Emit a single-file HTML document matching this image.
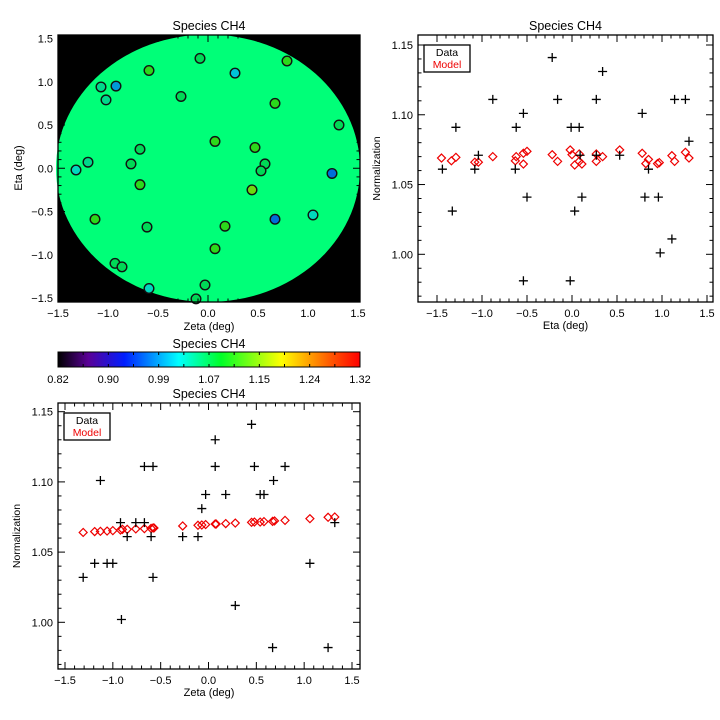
<!DOCTYPE html>
<html><head><meta charset="utf-8"><style>
body{margin:0;background:#fff}
svg{display:block;font-family:"Liberation Sans",sans-serif}
text{fill:#000}
</style></head><body>
<svg id="s" width="720" height="720" viewBox="0 0 720 720"></svg>
<script>
// ---- map panel data ----
const mapZeta=[-0.08,-0.59,0.27,0.79,-1.07,-0.92,-1.02,-0.27,0.67,1.31,0.07,-0.68,0.47,-1.20,-1.32,-0.77,0.57,0.53,1.24,-0.68,0.44,-1.13,-0.61,0.17,0.67,1.05,0.07,-0.93,-0.86,-0.59,-0.03,-0.12];
const mapEta=[1.27,1.13,1.10,1.24,0.94,0.95,0.79,0.83,0.75,0.50,0.31,0.22,0.24,0.07,-0.02,0.05,0.05,-0.03,-0.06,-0.19,-0.25,-0.59,-0.68,-0.67,-0.59,-0.54,-0.93,-1.10,-1.14,-1.39,-1.35,-1.51];
const mapVal=[1.07,1.11,1.01,1.11,1.05,0.99,1.05,1.07,1.11,1.07,1.11,1.07,1.11,1.05,1.03,1.07,1.07,1.07,0.97,1.11,1.14,1.11,1.07,1.11,0.97,1.03,1.11,1.07,1.07,1.03,1.07,1.07];
const diskVal=1.064;
const cbTicks=["0.82","0.90","0.99","1.07","1.15","1.24","1.32"];
// ---- eta panel data ----
const etaData=[-1.44,-1.33,-1.29,-1.08,-1.04,-0.88,-0.62,-0.63,-0.54,-0.50,-0.54,-0.22,-0.16,-0.01,0.08,0.09,0.11,0.03,-0.02,0.27,0.27,0.34,0.53,0.78,0.81,0.85,0.96,0.98,1.11,1.14,1.26,1.30];
const etaDataVal=[1.061,1.031,1.091,1.061,1.071,1.111,1.091,1.061,1.101,1.041,0.981,1.141,1.111,1.091,1.091,1.071,1.041,1.031,0.981,1.111,1.071,1.131,1.071,1.101,1.041,1.061,1.041,1.001,1.011,1.111,1.111,1.081];
const etaModelX=[-1.45,-1.34,-1.29,-1.08,-1.04,-0.88,-0.63,-0.62,-0.54,-0.54,-0.50,-0.22,-0.16,-0.02,0.00,0.03,0.08,0.08,0.11,0.27,0.27,0.34,0.53,0.78,0.82,0.85,0.95,0.97,1.11,1.14,1.26,1.30];
const etaModelVal=[1.069,1.067,1.0695,1.066,1.066,1.070,1.067,1.070,1.0724,1.0647,1.0738,1.0714,1.0666,1.0748,1.0714,1.064,1.0719,1.0666,1.0647,1.0666,1.0719,1.070,1.0748,1.0724,1.065,1.068,1.065,1.0657,1.0707,1.0666,1.0731,1.069];
// ---- zeta panel data ----
const zetaData=[-1.31,-1.19,-1.13,-1.06,-1.00,-0.92,-0.91,-0.85,-0.76,-0.67,-0.67,-0.58,-0.60,-0.58,-0.27,-0.11,-0.07,-0.03,0.07,0.07,0.18,0.28,0.45,0.48,0.54,0.58,0.68,0.67,0.80,1.06,1.25,1.32];
const zetaDataVal=[1.032,1.042,1.101,1.042,1.042,1.071,1.002,1.061,1.071,1.071,1.111,1.111,1.061,1.032,1.061,1.061,1.081,1.091,1.130,1.111,1.091,1.012,1.141,1.111,1.091,1.091,1.101,0.982,1.111,1.042,0.982,1.071];
const zetaModelX=[-1.31,-1.19,-1.13,-1.06,-1.00,-0.92,-0.90,-0.85,-0.76,-0.67,-0.60,-0.58,-0.57,-0.27,-0.11,-0.07,-0.03,0.07,0.08,0.18,0.28,0.45,0.48,0.54,0.58,0.67,0.69,0.80,1.06,1.25,1.32];
const zetaModelVal=[1.064,1.0646,1.0648,1.065,1.0653,1.0657,1.0662,1.0662,1.0665,1.0667,1.0669,1.0672,1.0672,1.0686,1.0691,1.0693,1.0696,1.070,1.070,1.0703,1.0707,1.0712,1.0714,1.0714,1.0717,1.0719,1.0722,1.0726,1.0738,1.0748,1.075];
const xTicks=["-1.5","-1.0","-0.5","0.0","0.5","1.0","1.5"];
const xTickVals=[-1.5,-1,-0.5,0,0.5,1,1.5];

const S=document.getElementById('s');const NS='http://www.w3.org/2000/svg';
function mk(t,a,p){const e=document.createElementNS(NS,t);for(const k in a)e.setAttribute(k,a[k]);(p||S).appendChild(e);return e;}
function txt(x,y,s,o){const e=mk('text',Object.assign({x:x,y:y,'font-size':11,'text-anchor':'middle'},o||{}));e.textContent=s;return e;}
function lin(d0,d1,r0,r1){return v=>r0+(v-d0)/(d1-d0)*(r1-r0);}
const stops=[[0.82,[0,0,0]],[0.87,[90,0,150]],[0.93,[0,30,255]],[1.02,[0,255,255]],[1.09,[0,255,40]],[1.19,[255,255,0]],[1.27,[255,90,0]],[1.32,[255,0,0]]];
function cmap(v){for(let i=1;i<stops.length;i++){if(v<=stops[i][0]){const a=stops[i-1],b=stops[i],t=(v-a[0])/(b[0]-a[0]);const c=a[1].map((x,j)=>Math.round(x+(b[1][j]-x)*t));return 'rgb('+c.join(',')+')';}}return 'rgb(255,0,0)';}
function dotColor(v){const m=cmap(v).match(/\d+/g).map(Number);return 'rgb('+m.map(x=>Math.round(x*0.85)).join(',')+')';}

function frame(g,L,T,R,B,sx,sy,yt,yfmt,name){
  mk('rect',{x:L,y:T,width:R-L,height:B-T,fill:'none',stroke:'#000','stroke-width':1.3},g);
  for(let v=-1.5;v<=1.51;v+=0.1){const x=sx(v);const big=Math.abs(v*2-Math.round(v*2))<1e-6;const l=big?7:3.5;
    mk('line',{x1:x,y1:B,x2:x,y2:B-l,stroke:'#000'},g);mk('line',{x1:x,y1:T,x2:x,y2:T+l,stroke:'#000'},g);}
  xTickVals.forEach((v,i)=>{const t=txt(sx(v),B+15,xTicks[i].replace('-','\u2212'),{});});
  yt.forEach(o=>{const y=sy(o.v);const l=o.big?7:3.5;mk('line',{x1:L,y1:y,x2:L+l,y2:y,stroke:'#000'},g);mk('line',{x1:R,y1:y,x2:R-l,y2:y,stroke:'#000'},g);
    if(o.big){const t=txt(L-5,y+4,yfmt(o.v),{'text-anchor':'end'});}});
}
function grp(n){const g=mk('g',{});return g;}

// ===== Map panel =====
(function(){const g=grp('map-panel');const L=58,T=35,R=360,B=302;
  const sx=lin(-1.5,1.5,58,358),sy=lin(-1.5,1.5,298,38.5);
  mk('rect',{x:L,y:T,width:R-L,height:B-T,fill:'#000'},g);
  const d=mk('ellipse',{cx:sx(0),cy:sy(0),rx:sx(1.5)-sx(0)+2,ry:sy(-1.5)-sy(0)+4,fill:cmap(diskVal)},g);
  mapZeta.forEach((z,i)=>{const c=mk('circle',{cx:sx(z),cy:sy(mapEta[i]),r:4.8,fill:dotColor(mapVal[i]),stroke:'#111','stroke-width':1.4},g);
    });
  const yt=[];for(let v=-1.5;v<=1.51;v+=0.1)yt.push({v:v,big:Math.abs(v*2-Math.round(v*2))<1e-6});
  frame(g,L,T,R,B,sx,sy,yt,v=>v.toFixed(1).replace('-','\u2212'),'map');
  txt(209,30,'Species CH4',{'font-size':12.5});
  txt(209,330,'Zeta (deg)',{'font-size':11});
  txt(22,168,'Eta (deg)',{'font-size':11,transform:'rotate(-90 22 168)'});
})();
// ===== Colorbar =====
(function(){const g=grp('colorbar');const L=58,R=360,T=352,B=367;
  const defs=mk('defs',{},g);const lg=mk('linearGradient',{id:'cb',x1:0,x2:1,y1:0,y2:0},defs);
  stops.forEach(s=>mk('stop',{offset:((s[0]-0.82)/0.5*100)+'%','stop-color':cmap(s[0])},lg));
  mk('rect',{x:L,y:T,width:R-L,height:B-T,fill:'url(#cb)',stroke:'#000'},g);
  for(let i=1;i<12;i++){const x=L+(R-L)*i/12;mk('line',{x1:x,y1:T,x2:x,y2:T+3,stroke:'#000'},g);mk('line',{x1:x,y1:B,x2:x,y2:B-3,stroke:'#000'},g);}
  cbTicks.forEach((s,i)=>{txt(L+(R-L)*i/6,383,s,{});});
  txt(209,348,'Species CH4',{'font-size':12.5});
})();
function scatter(n,L,T,R,B,sx,sy,xs,ys,mx,my,title,xl){
  const g=grp(n);const yt=[];for(let v=0.97;v<=1.155;v+=0.01)yt.push({v:v,big:Math.abs(v*20-Math.round(v*20))<1e-6});
  frame(g,L,T,R,B,sx,sy,yt,v=>v.toFixed(2),n);
  mx.forEach((x,i)=>{const cx=sx(x),cy=sy(my[i]);const p=mk('polygon',{points:`${cx},${cy-4} ${cx+4},${cy} ${cx},${cy+4} ${cx-4},${cy}`,fill:'none',stroke:'#e00','stroke-width':1.2},g);
    });
  xs.forEach((x,i)=>{const cx=sx(x),cy=sy(ys[i]);const p=mk('path',{d:`M${cx-4.5} ${cy}H${cx+4.5}M${cx} ${cy-4.5}V${cy+4.5}`,stroke:'#000','stroke-width':1.3},g);
    });
  mk('rect',{x:L+6,y:T+10,width:46,height:27,fill:'#fff',stroke:'#000','stroke-width':1.3},g);
  txt(L+29,T+21,'Data',{'font-size':10.5});
  txt(L+29,T+33,'Model',{'font-size':10.5,style:'fill:#e00'});
  txt((L+R)/2,T-5,title,{'font-size':12.5});
  txt((L+R)/2,B+27,xl,{});
  const yc=(T+B)/2;txt(L-38,yc,'Normalization',{'font-size':10.5,transform:`rotate(-90 ${L-38} ${yc})`});
}
scatter('eta-panel',418,35,713,302,lin(-1.5,1.5,437,707),lin(1.0,1.15,254.3,45),etaData,etaDataVal,etaModelX,etaModelVal,'Species CH4','Eta (deg)');
scatter('zeta-panel',58,403,360,669,lin(-1.5,1.5,65,352),lin(1.0,1.15,622.3,411.7),zetaData,zetaDataVal,zetaModelX,zetaModelVal,'Species CH4','Zeta (deg)');
</script>
</body></html>
